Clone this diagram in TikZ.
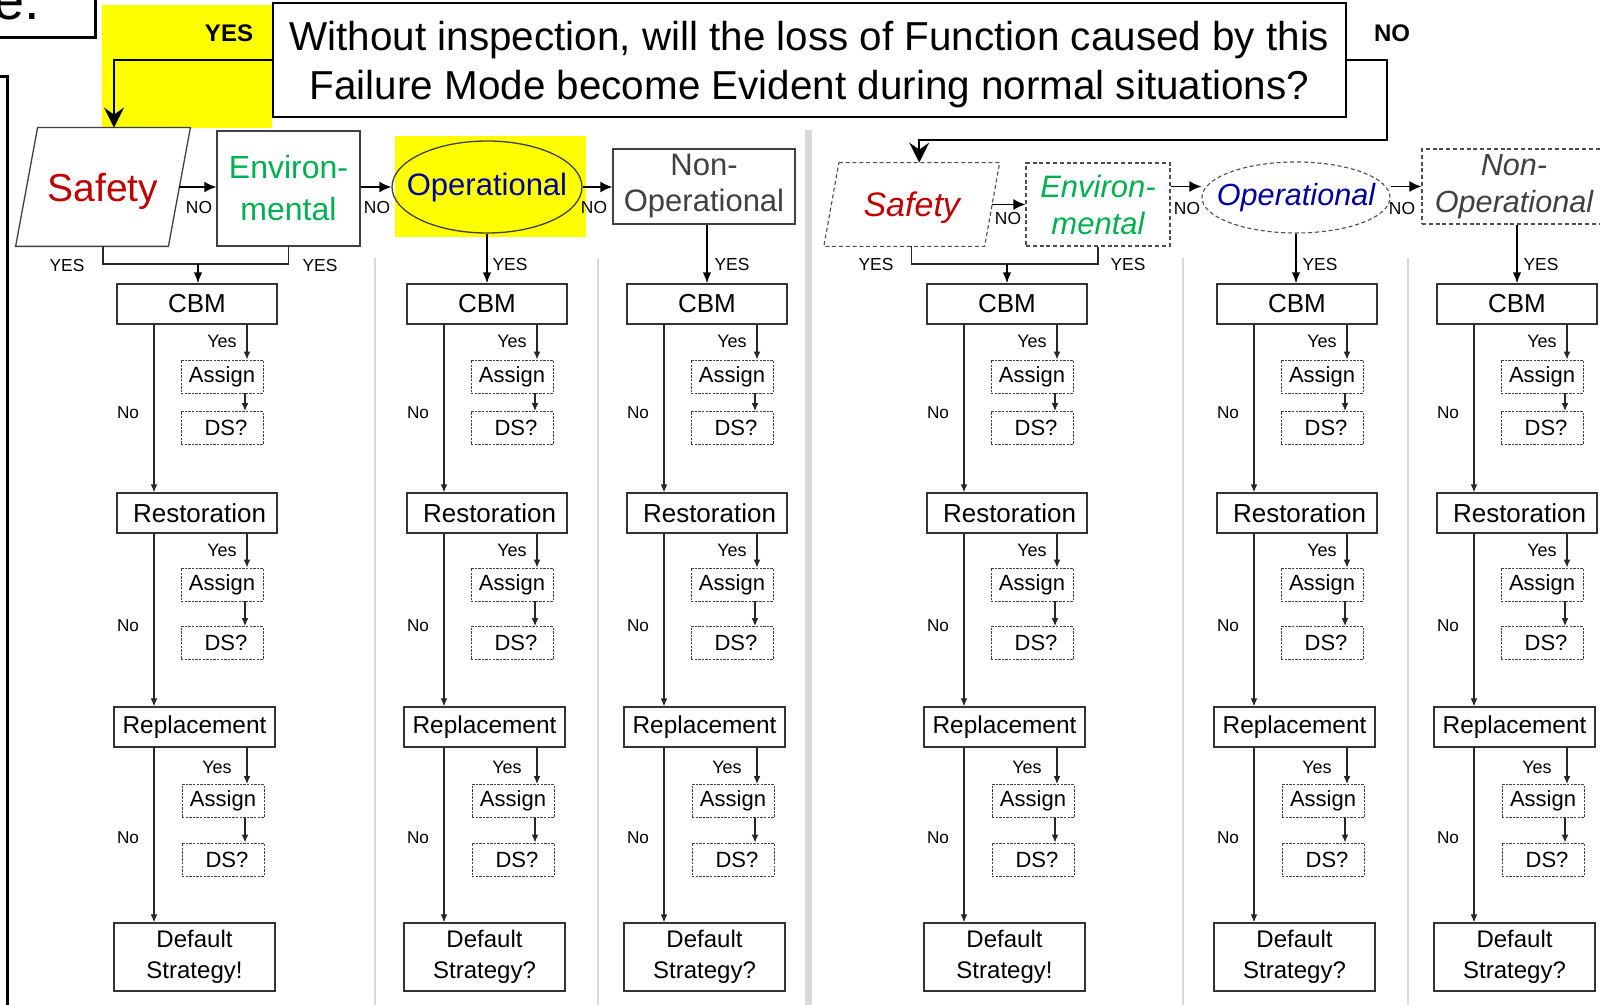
\documentclass[tikz,border=0pt]{standalone}
\usepackage{fontspec}
\setmainfont{Liberation Sans}
\usetikzlibrary{arrows.meta,shapes.geometric,calc}
\definecolor{safetyred}{RGB}{192,0,0}
\definecolor{envgreen}{RGB}{0,176,80}
\definecolor{opblue}{RGB}{0,0,160}
\definecolor{nongray}{RGB}{64,64,64}
\definecolor{sepgray}{RGB}{217,217,217}
\definecolor{hiyellow}{RGB}{255,255,0}
\newcommand\fs[2]{\fontsize{#1}{#2}\selectfont}

\begin{document}
\begin{tikzpicture}[x=0.5pt,y=-0.5pt,
  mainbox/.style={draw=black!80,line width=0.6pt,minimum width=80pt,minimum height=20pt,inner sep=0pt,font=\fs{13}{15}},
  subbox/.style={draw=black!75,line width=0.45pt,dash pattern=on 1.2pt off 0.6pt,minimum width=41pt,minimum height=16.5pt,inner sep=0pt,font=\fs{11}{13}},
  flow/.style={draw=black!85,line width=0.6pt,-{Latex[length=4pt,width=3.4pt]}},
  plain/.style={draw=black!85,line width=0.55pt},
  downarr/.style={draw=black,line width=0.7pt,-{Latex[length=5.5pt,width=4.2pt]}},
  toparr/.style={draw=black,line width=0.9pt,-{Latex[length=6pt,width=5.5pt]}},
  qarr/.style={draw=black,line width=1pt,-{Stealth[length=10pt,width=10pt,inset=3.5pt]}},
  yeslbl/.style={inner sep=0pt,font=\fs{9}{10}},
  nolbl/.style={inner sep=0pt,font=\fs{8.6}{10}},
  caplbl/.style={inner sep=0pt,font=\fs{8.7}{10}},
  boldlbl/.style={inner sep=0pt,font=\fs{12}{14}\bfseries},
  topsolid/.style={draw=black!75,line width=0.65pt,inner sep=0pt},
  topdash/.style={draw=black!70,line width=0.55pt,dash pattern=on 2pt off 1.4pt,inner sep=0pt},
  sep/.style={draw=sepgray,line width=1pt}
]
\useasboundingbox (0,0) rectangle (1600,1005);
\clip (0,0) rectangle (1600,1005);
\fill[white] (0,0) rectangle (1600,1005);

% highlighted areas
\fill[hiyellow] (102,5) rectangle (272,128);
\fill[hiyellow] (395,136) rectangle (586,237);

% column separators
\foreach \sx in {375,598,1183,1408}{\draw[sep] (\sx,258) -- (\sx,1010);}
\draw[draw=sepgray,line width=3.5pt] (808.5,130) -- (808.5,1010);

% panel tag and frame
\draw[line width=1.3pt] (-10,-10) rectangle (95.5,37.5);
\node[anchor=base west,inner sep=0pt,font=\fs{28}{30}] (tag) at (-7,20) {e.};
\draw[line width=1.3pt] (-2,76.5) -- (7.5,76.5) -- (7.5,1010);

% the question
\node[draw,line width=1pt,minimum width=536.5pt,minimum height=57pt,inner sep=0pt,align=center,
      text depth=0pt,font=\fs{20.2}{24.5}] (q) at (809.5,60)
  {Without inspection, will the loss of Function caused by this\\Failure Mode become Evident during normal situations?};
\node[boldlbl] (qyes) at (229,33) {YES};
\node[boldlbl] (qno) at (1392,33) {NO};

% evident branch
\node[inner sep=0pt,minimum width=87pt,minimum height=59pt,text depth=0pt,font=\fs{19.5}{22},text=safetyred] (sA) at (103,187) {Safety};
\draw[topsolid] ($(sA.north west)+(22,0)$) -- (sA.north east) -- ($(sA.south east)+(-22,0)$) -- (sA.south west) -- cycle;
\coordinate (sAtop) at ($(sA.north)+(11,0)$);
\coordinate (sAright) at ($(sA.east)+(-11,0)$);
\node[topsolid,minimum width=71.5pt,minimum height=57.5pt,align=center,font=\fs{16}{21},text=envgreen] (eA) at (288.5,188.5) {Environ-\\mental};
\node[topsolid,ellipse,inner xsep=-6.5pt,minimum width=95pt,minimum height=46pt,font=\fs{15.5}{18},text=opblue] (oA) at (487,187) {Operational};
\node[topsolid,minimum width=91pt,minimum height=37.5pt,align=center,font=\fs{15.5}{18},text=nongray] (nA) at (704,186.5) {Non-\\Operational};

% hidden branch
\node[inner sep=0pt,minimum width=87.5pt,minimum height=41.5pt,text depth=0pt,font=\fs{17}{20}\itshape,text=safetyred] (sB) at (911.75,204.5) {Safety};
\draw[topdash] ($(sB.north west)+(15,0)$) -- (sB.north east) -- ($(sB.south east)+(-15,0)$) -- (sB.south west) -- cycle;
\coordinate (sBtop) at ($(sB.north)+(7.5,0)$);
\coordinate (sBright) at ($(sB.east)+(-8,0)$);
\node[topdash,minimum width=72pt,minimum height=41.5pt,align=center,font=\fs{15.5}{18.5}\itshape,text=envgreen] (eB) at (1098,204.5) {Environ-\\mental};
\node[topdash,ellipse,inner xsep=-6.3pt,inner ysep=-2pt,minimum width=94pt,minimum height=35.5pt,font=\fs{15.3}{18}\itshape,text=opblue] (oB) at (1296,197.5) {Operational};
\node[topdash,minimum width=92pt,minimum height=37.5pt,align=center,font=\fs{15.3}{18.5}\itshape,text=nongray] (nB) at (1514,186.5) {Non-\\Operational};

% question outcomes
\coordinate (noturn) at (1387,140);
\draw[qarr] (q.west) -| (sAtop);
\draw[qarr] (q.east) -| (noturn) -| (sBtop);

% columns of strategies
\foreach \L/\c/\m in {117/a/!,407/b/?,627/c/?,927/d/!,1217/e/?,1437/f/?}{
  \coordinate (yx\c) at (\L+130,0);
  \coordinate (ax\c) at (\L+128,0);
  \coordinate (nx\c) at (\L+37,0);
  \node[mainbox] (cbm\c) at (\L+80,304) {CBM};
  \node[subbox] (aa\c) at (\L+105,376.5) {Assign};
  \node[subbox] (da\c) at (\L+105,428) {\hspace*{4pt}DS?};
  \node[mainbox] (res\c) at (\L+80,513) {\hspace*{2.5pt}Restoration};
  \node[subbox] (ab\c) at (\L+105,584.5) {Assign};
  \node[subbox] (db\c) at (\L+105,643) {\hspace*{4pt}DS?};
  \node[mainbox,minimum width=80.5pt,font=\fs{12.2}{14}] (rep\c) at (\L+77.5,727) {Replacement};
  \node[subbox] (ac\c) at (\L+106,801) {Assign};
  \node[subbox] (dc\c) at (\L+106,859.5) {\hspace*{4pt}DS?};
  \node[mainbox,minimum width=80.5pt,minimum height=34pt,align=center,font=\fs{12}{15.5}] (def\c) at (\L+77.5,957) {Default\\Strategy\m};
  % yes branches
  \draw[flow] (cbm\c.south -| yx\c) -- (aa\c.north -| yx\c);
  \draw[flow] (aa\c.south -| ax\c) -- (da\c.north -| ax\c);
  \draw[flow] (res\c.south -| yx\c) -- (ab\c.north -| yx\c);
  \draw[flow] (ab\c.south -| ax\c) -- (db\c.north -| ax\c);
  \draw[flow] (rep\c.south -| yx\c) -- (ac\c.north -| yx\c);
  \draw[flow] (ac\c.south -| ax\c) -- (dc\c.north -| ax\c);
  % no branches
  \draw[flow] (cbm\c.south -| nx\c) -- (res\c.north -| nx\c);
  \draw[flow] (res\c.south -| nx\c) -- (rep\c.north -| nx\c);
  \draw[flow] (rep\c.south -| nx\c) -- (def\c.north -| nx\c);
  % labels
  \node[yeslbl] (ly1\c) at (\L+105,341.5) {Yes};
  \node[yeslbl] (ly2\c) at (\L+105,550) {Yes};
  \node[yeslbl] (ly3\c) at (\L+100,767.5) {Yes};
  \node[nolbl] (ln1\c) at (\L+11,412.5) {No};
  \node[nolbl] (ln2\c) at (\L+11,626) {No};
  \node[nolbl] (ln3\c) at (\L+11,837.5) {No};
}

% evident branch connectors
\draw[toparr] (sAright) -- (sAright -| eA.west);
\draw[toparr] (eA.east |- oA.west) -- (oA.west);
\draw[toparr] (oA.east) -- (oA.east -| nA.west);
\coordinate (jA) at (198,264);
\draw[plain] (sA.south) |- (jA) -| (eA.south);
\draw[downarr] (jA) -- (jA |- cbma.north);
\draw[downarr] (oA.south) -- (oA.south |- cbmb.north);
\draw[downarr] (nA.south -| cbmc.north) -- (cbmc.north);

% hidden branch connectors
\draw[toparr] (sBright) -- (sBright -| eB.west);
\draw[toparr] (eB.east |- nB.west) -- (oB.west |- nB.west);
\draw[toparr] (oB.east |- nB.west) -- (nB.west);
\coordinate (jB) at (1007,264);
\draw[plain] (sB.south) |- (jB) -| (eB.south);
\draw[downarr] (jB) -- (jB |- cbmd.north);
\draw[downarr] (oB.south) -- (oB.south |- cbme.north);
\draw[downarr] (nB.south -| cbmf.north) -- (cbmf.north);

% branch labels
\node[caplbl] (tn1) at (199,208) {NO};
\node[caplbl] (tn2) at (377,208) {NO};
\node[caplbl] (tn3) at (594,208) {NO};
\node[caplbl] (ty1) at (67,266) {YES};
\node[caplbl] (ty2) at (320,266) {YES};
\node[caplbl] (ty3) at (510,265) {YES};
\node[caplbl] (ty4) at (732,265) {YES};
\node[caplbl] (tn4) at (1008,219) {NO};
\node[caplbl] (tn5) at (1187,209) {NO};
\node[caplbl] (tn6) at (1402,209) {NO};
\node[caplbl] (ty5) at (876,265) {YES};
\node[caplbl] (ty6) at (1128,265) {YES};
\node[caplbl] (ty7) at (1320,265) {YES};
\node[caplbl] (ty8) at (1541,265) {YES};
\end{tikzpicture}
\end{document}
